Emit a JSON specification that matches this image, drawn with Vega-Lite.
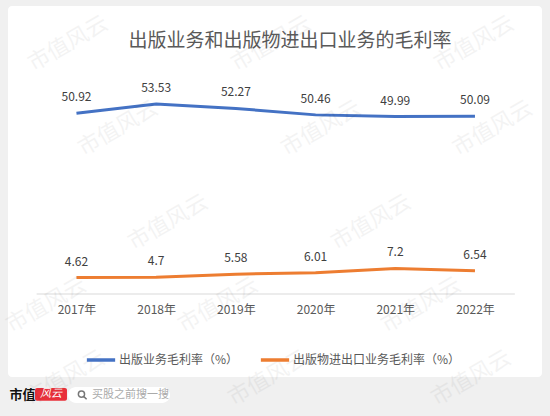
{
  "$schema": "https://vega.github.io/schema/vega-lite/v6.json",
  "width": 534,
  "height": 371,
  "autosize": "none",
  "padding": {"left": 8, "top": 6, "right": 8, "bottom": 39},
  "background": "#f0f0f0",
  "title": {
    "text": "出版业务和出版物进出口业务的毛利率",
    "anchor": "middle",
    "frame": "group",
    "baseline": "middle",
    "offset": -54,
    "dx": 15,
    "fontSize": 19,
    "fontWeight": "normal",
    "color": "#595959"
  },
  "config": {
    "view": {"fill": "white", "stroke": null, "cornerRadius": 4},
    "font": "Noto Sans CJK SC",
    "style": {
      "wm": {"fontSize": 22, "angle": 330, "color": "#000000", "opacity": 0.045, "text": "市值风云"}
    }
  },
  "data": {
    "values": [
      {"year": 2017, "series": "出版业务毛利率（%）", "rate": 50.92},
      {"year": 2018, "series": "出版业务毛利率（%）", "rate": 53.53},
      {"year": 2019, "series": "出版业务毛利率（%）", "rate": 52.27},
      {"year": 2020, "series": "出版业务毛利率（%）", "rate": 50.46},
      {"year": 2021, "series": "出版业务毛利率（%）", "rate": 49.99},
      {"year": 2022, "series": "出版业务毛利率（%）", "rate": 50.09},
      {"year": 2017, "series": "出版物进出口业务毛利率（%）", "rate": 4.62},
      {"year": 2018, "series": "出版物进出口业务毛利率（%）", "rate": 4.7},
      {"year": 2019, "series": "出版物进出口业务毛利率（%）", "rate": 5.58},
      {"year": 2020, "series": "出版物进出口业务毛利率（%）", "rate": 6.01},
      {"year": 2021, "series": "出版物进出口业务毛利率（%）", "rate": 7.2},
      {"year": 2022, "series": "出版物进出口业务毛利率（%）", "rate": 6.54}
    ]
  },
  "layer": [
    {
      "data": {"values": [{}]},
      "mark": {"type": "rule", "color": "#d9d9d9", "strokeWidth": 1.2},
      "encoding": {
        "x": {"datum": 2016.5, "type": "quantitative"},
        "x2": {"datum": 2022.5},
        "y": {"datum": 0, "type": "quantitative", "axis": null}
      }
    },
    {
      "mark": {"type": "line", "strokeWidth": 3},
      "encoding": {
        "x": {
          "field": "year",
          "type": "quantitative",
          "title": null,
          "scale": {"domain": [2016.141, 2022.841], "nice": false, "zero": false},
          "axis": {
            "orient": "bottom",
            "offset": -83,
            "values": [2017, 2018, 2019, 2020, 2021, 2022],
            "labelExpr": "datum.value + '年'",
            "domain": false,
            "ticks": false,
            "grid": false,
            "labelPadding": 10,
            "labelFontSize": 12,
            "labelColor": "#595959"
          }
        },
        "y": {
          "field": "rate",
          "type": "quantitative",
          "scale": {"domain": [-23.38, 81.13], "nice": false, "zero": false},
          "axis": null
        },
        "color": {
          "field": "series",
          "type": "nominal",
          "sort": ["出版业务毛利率（%）", "出版物进出口业务毛利率（%）"],
          "scale": {
            "domain": ["出版业务毛利率（%）", "出版物进出口业务毛利率（%）"],
            "range": ["#4472C4", "#ED7D31"]
          },
          "legend": {
            "title": null,
            "orient": "none",
            "direction": "horizontal",
            "legendX": 77,
            "legendY": 338,
            "symbolType": "stroke",
            "symbolStrokeWidth": 3.5,
            "symbolSize": 800,
            "labelFontSize": 12,
            "labelColor": "#595959",
            "labelOffset": 2,
            "labelLimit": 0,
            "columnPadding": 14
          }
        }
      }
    },
    {
      "mark": {"type": "text", "dy": -16, "fontSize": 12, "color": "#404040"},
      "encoding": {
        "x": {"field": "year", "type": "quantitative"},
        "y": {"field": "rate", "type": "quantitative", "axis": null},
        "text": {"field": "rate", "type": "nominal"}
      }
    },
    {
      "data": {"values": [{}]},
      "mark": {"type": "text", "text": "市值", "fontSize": 13, "fontWeight": "bold", "color": "#111111"},
      "encoding": {
        "x": {"datum": 2016.323, "type": "quantitative"},
        "y": {"datum": -28.45, "type": "quantitative", "axis": null}
      }
    },
    {
      "data": {"values": [{}]},
      "mark": {"type": "rect", "color": "#e8303a", "cornerRadius": 2},
      "encoding": {
        "x": {"datum": 2016.48, "type": "quantitative"},
        "x2": {"datum": 2016.881},
        "y": {"datum": -26.5, "type": "quantitative", "axis": null},
        "y2": {"datum": -30.1}
      }
    },
    {
      "data": {"values": [{}]},
      "mark": {"type": "text", "text": "风云", "fontSize": 11, "fontStyle": "italic", "color": "white"},
      "encoding": {
        "x": {"datum": 2016.68, "type": "quantitative"},
        "y": {"datum": -28.3, "type": "quantitative", "axis": null}
      }
    },
    {
      "data": {"values": [{}]},
      "mark": {"type": "rect", "color": "white", "cornerRadius": 8},
      "encoding": {
        "x": {"datum": 2016.894, "type": "quantitative"},
        "x2": {"datum": 2018.174},
        "y": {"datum": -26.2, "type": "quantitative", "axis": null},
        "y2": {"datum": -30.7}
      }
    },
    {
      "data": {"values": [{}]},
      "mark": {
        "type": "point",
        "shape": "M-0.2,-0.2m-0.45,0a0.45,0.45 0 1,0 0.9,0a0.45,0.45 0 1,0 -0.9,0M0.12,0.12L0.55,0.55",
        "filled": false,
        "stroke": "#777777",
        "strokeWidth": 1.5,
        "size": 190,
        "opacity": 1
      },
      "encoding": {
        "x": {"datum": 2017.08, "type": "quantitative"},
        "y": {"datum": -28.6, "type": "quantitative", "axis": null}
      }
    },
    {
      "data": {"values": [{}]},
      "mark": {"type": "text", "text": "买股之前搜一搜", "fontSize": 11, "align": "left", "color": "#aaaaaa"},
      "encoding": {
        "x": {"datum": 2017.195, "type": "quantitative"},
        "y": {"datum": -28.45, "type": "quantitative", "axis": null}
      }
    },
    {"data": {"values": [{}]}, "mark": {"type": "text", "style": "wm"}, "encoding": {"x": {"datum": 2016.894, "type": "quantitative"}, "y": {"datum": 70.6, "type": "quantitative", "axis": null}}},
    {"data": {"values": [{}]}, "mark": {"type": "text", "style": "wm"}, "encoding": {"x": {"datum": 2019.441, "type": "quantitative"}, "y": {"datum": 70.6, "type": "quantitative", "axis": null}}},
    {"data": {"values": [{}]}, "mark": {"type": "text", "style": "wm"}, "encoding": {"x": {"datum": 2021.988, "type": "quantitative"}, "y": {"datum": 70.6, "type": "quantitative", "axis": null}}},
    {"data": {"values": [{}]}, "mark": {"type": "text", "style": "wm"}, "encoding": {"x": {"datum": 2017.521, "type": "quantitative"}, "y": {"datum": 46.7, "type": "quantitative", "axis": null}}},
    {"data": {"values": [{}]}, "mark": {"type": "text", "style": "wm"}, "encoding": {"x": {"datum": 2020.068, "type": "quantitative"}, "y": {"datum": 46.7, "type": "quantitative", "axis": null}}},
    {"data": {"values": [{}]}, "mark": {"type": "text", "style": "wm"}, "encoding": {"x": {"datum": 2022.22, "type": "quantitative"}, "y": {"datum": 46.7, "type": "quantitative", "axis": null}}},
    {"data": {"values": [{}]}, "mark": {"type": "text", "style": "wm"}, "encoding": {"x": {"datum": 2018.149, "type": "quantitative"}, "y": {"datum": 20.25, "type": "quantitative", "axis": null}}},
    {"data": {"values": [{}]}, "mark": {"type": "text", "style": "wm"}, "encoding": {"x": {"datum": 2020.696, "type": "quantitative"}, "y": {"datum": 20.25, "type": "quantitative", "axis": null}}},
    {"data": {"values": [{}]}, "mark": {"type": "text", "style": "wm"}, "encoding": {"x": {"datum": 2016.62, "type": "quantitative"}, "y": {"datum": -3.09, "type": "quantitative", "axis": null}}},
    {"data": {"values": [{}]}, "mark": {"type": "text", "style": "wm"}, "encoding": {"x": {"datum": 2018.776, "type": "quantitative"}, "y": {"datum": -3.09, "type": "quantitative", "axis": null}}},
    {"data": {"values": [{}]}, "mark": {"type": "text", "style": "wm"}, "encoding": {"x": {"datum": 2021.323, "type": "quantitative"}, "y": {"datum": -3.09, "type": "quantitative", "axis": null}}},
    {"data": {"values": [{}]}, "mark": {"type": "text", "style": "wm"}, "encoding": {"x": {"datum": 2016.856, "type": "quantitative"}, "y": {"datum": -23.63, "type": "quantitative", "axis": null}}},
    {"data": {"values": [{}]}, "mark": {"type": "text", "style": "wm"}, "encoding": {"x": {"datum": 2019.403, "type": "quantitative"}, "y": {"datum": -23.63, "type": "quantitative", "axis": null}}},
    {"data": {"values": [{}]}, "mark": {"type": "text", "style": "wm"}, "encoding": {"x": {"datum": 2021.95, "type": "quantitative"}, "y": {"datum": -23.63, "type": "quantitative", "axis": null}}}
  ]
}
